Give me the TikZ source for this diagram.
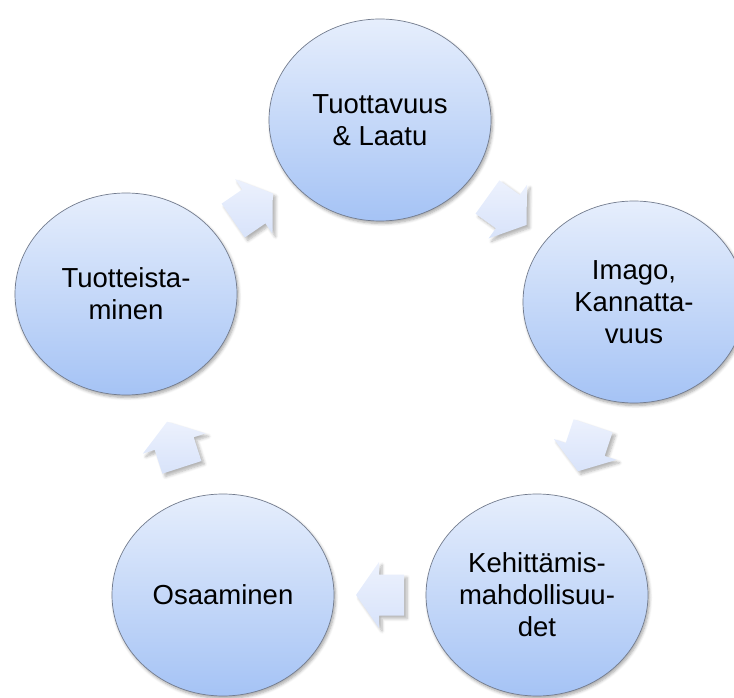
\documentclass[tikz,border=0pt]{standalone}
\usepackage{fontspec}
\setmainfont{Liberation Sans}
\usetikzlibrary{shapes.geometric,shadows.blur,calc}
\definecolor{circtop}{RGB}{230,238,252}
\definecolor{circbot}{RGB}{165,195,245}
\definecolor{circline}{RGB}{115,124,142}
\definecolor{arrtop}{RGB}{236,241,253}
\definecolor{arrbot}{RGB}{216,227,250}
\begin{document}
\begin{tikzpicture}[x=1pt,y=1pt,
  stage/.style={ellipse, minimum width=222, minimum height=202, inner sep=0pt,
    align=center, top color=circtop, bottom color=circbot, draw=circline,
    line width=0.7pt, font=\fontsize{27.5}{32}\selectfont,
    blur shadow={shadow xshift=1.5pt, shadow yshift=-2.5pt, shadow opacity=35,
      shadow blur steps=5, shadow blur radius=3pt}},
  blockarrow/.style={top color=arrtop, bottom color=arrbot,
    blur shadow={shadow xshift=3pt, shadow yshift=-3pt, shadow opacity=30,
      shadow blur steps=6, shadow blur radius=3pt}}]
\useasboundingbox (0,0) rectangle (734,697);
\node[stage] (T)  at (380,577) {Tuottavuus\\\& Laatu};
\node[stage] (R)  at (634,395) {Imago,\\Kannatta-\\vuus};
\node[stage] (BR) at (537,102) {Kehittämis-\\mahdollisuu-\\det};
\node[stage] (BL) at (223,102) {Osaaminen};
\node[stage] (L)  at (126,403) {Tuotteista-\\minen};
\coordinate (m1) at ($(L)!0.5!(T)$);
\coordinate (m2) at ($(T)!0.5!(R)$);
\coordinate (m3) at ($(R)!0.5!(BR)$);
\coordinate (m4) at ($(BR)!0.5!(BL)$);
\coordinate (m5) at ($(BL)!0.5!(L)$);
\foreach \m/\a in {m1/34.4, m2/-35.6, m3/-108.4, m4/180, m5/107.9}{
  \shade[blockarrow, shift={(\m)}, rotate=\a]
    (-24,-20.5) -- (1,-20.5) -- (1,-33) -- (24,0) -- (1,33) -- (1,20.5)
    -- (-24,20.5) -- cycle;
}
\end{tikzpicture}
\end{document}
